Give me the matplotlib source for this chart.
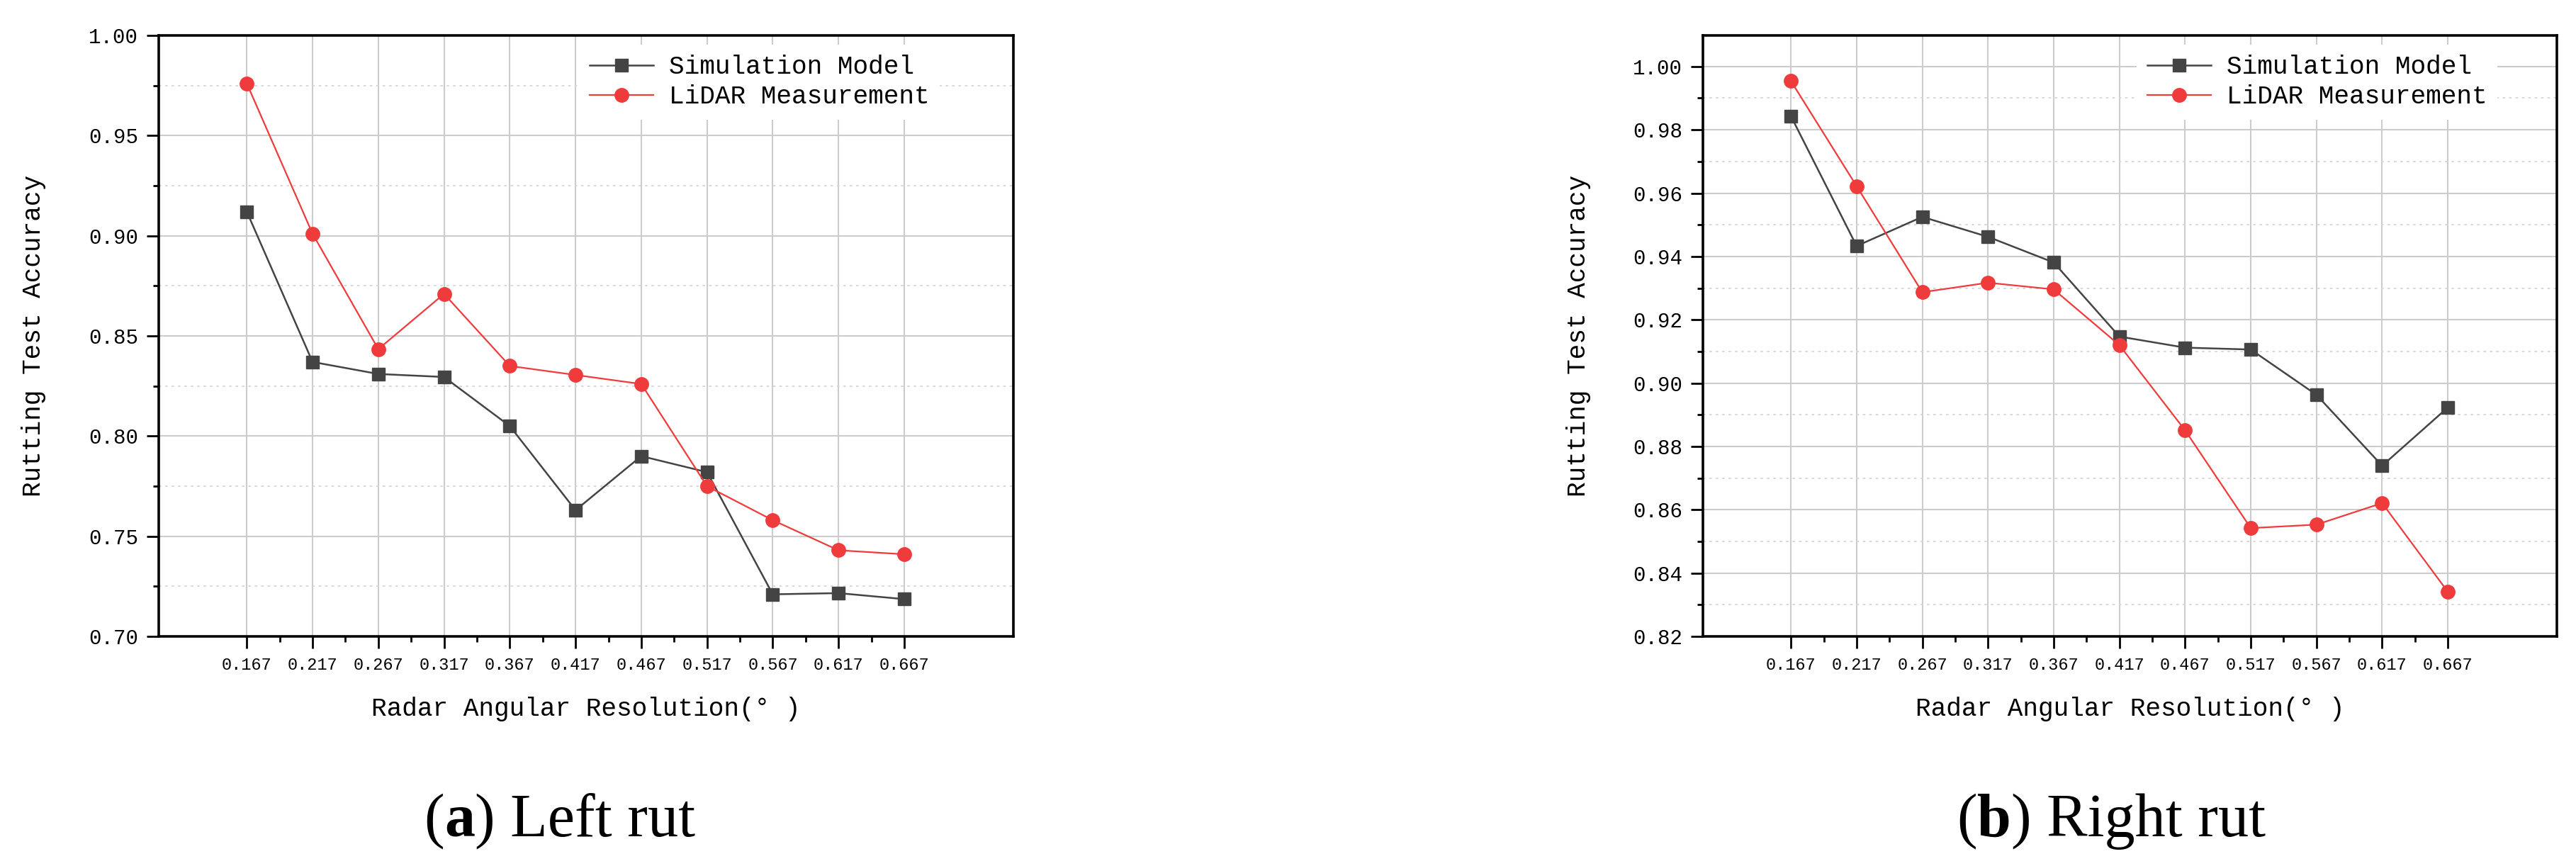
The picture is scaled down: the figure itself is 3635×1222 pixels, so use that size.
import matplotlib.pyplot as plt
import numpy as np
from matplotlib.ticker import FixedLocator, MultipleLocator

# radar angular resolution (deg)
resolution = [0.167, 0.217, 0.267, 0.317, 0.367, 0.417, 0.467, 0.517, 0.567, 0.617, 0.667]
tick_labels = ['0.167', '0.217', '0.267', '0.317', '0.367', '0.417',
               '0.467', '0.517', '0.567', '0.617', '0.667']

left_sim = [0.912, 0.837, 0.831, 0.8295, 0.805, 0.763, 0.790, 0.782, 0.721, 0.7216, 0.7186]
left_lidar = [0.976, 0.901, 0.8434, 0.871, 0.835, 0.8305, 0.826, 0.775, 0.758, 0.743, 0.741]

right_sim = [0.9843, 0.9433, 0.9525, 0.9462, 0.9381, 0.9147, 0.9112, 0.9106, 0.8963, 0.8739, 0.8923]
right_lidar = [0.9954, 0.9622, 0.9287, 0.9317, 0.9296, 0.912, 0.8851, 0.8542, 0.8553, 0.8621, 0.8341]

series_names = ['Simulation Model', 'LiDAR Measurement']
captions = [('(', 'a', ') Left rut'), ('(', 'b', ') Right rut')]

mono = 'Liberation Mono'
serif = 'Liberation Serif'
sim_color = '#444444'
lidar_color = '#ef3b3b'

fig = plt.figure(figsize=(36.35, 12.22), dpi=100)
fig.patch.set_facecolor('white')

ax_left = fig.add_axes([0.06162, 0.26514, 0.33177, 0.69394])
ax_right = fig.add_axes([0.66107, 0.26514, 0.33150, 0.69394])


def style_axes(ax, sim, lidar, ylim, ystep, legend_x):
    ax.plot(resolution, sim, color=sim_color, lw=1.8, marker='s', ms=13,
            mfc=sim_color, mec=sim_color, label=series_names[0], zorder=3)
    ax.plot(resolution, lidar, color=lidar_color, lw=1.6, marker='o', ms=14,
            mfc=lidar_color, mec=lidar_color, label=series_names[1], zorder=4)

    ax.set_xlim(0.1, 0.75)
    ax.set_ylim(*ylim)

    ax.xaxis.set_major_locator(FixedLocator(resolution))
    ax.set_xticklabels(tick_labels, fontfamily=mono, fontsize=17)
    mids = [(a + b) / 2 for a, b in zip(resolution[:-1], resolution[1:])]
    ax.xaxis.set_minor_locator(FixedLocator(mids))

    ax.yaxis.set_major_locator(MultipleLocator(ystep))
    ax.yaxis.set_minor_locator(MultipleLocator(ystep / 2))
    ax.yaxis.set_major_formatter(plt.FormatStrFormatter('%.2f'))
    for lab in ax.get_yticklabels():
        lab.set_fontfamily(mono)
        lab.set_fontsize(21)

    ax.tick_params(which='major', direction='out', length=12, width=2,
                   top=False, right=False, pad=9, colors='black')
    ax.tick_params(which='minor', direction='out', length=6, width=2,
                   top=False, right=False)

    ax.grid(which='major', axis='both', color='#cccccc', lw=1.5)
    ax.grid(which='minor', axis='y', color='#d6d6d6', lw=1.3, ls=(0, (2, 3)))
    ax.set_axisbelow(True)

    for sp in ax.spines.values():
        sp.set_linewidth(2.6)
        sp.set_color('black')

    ax.set_xlabel('Radar Angular Resolution(° )', fontfamily=mono, fontsize=26, va='center')
    ax.xaxis.set_label_coords(0.5, -0.121)
    ax.set_ylabel('Rutting Test Accuracy', fontfamily=mono, fontsize=26, va='center')
    ax.yaxis.set_label_coords(-0.146, 0.5)

    leg = ax.legend(loc='upper left', bbox_to_anchor=(legend_x, 0.985), frameon=True,
                    fancybox=False, edgecolor='none', facecolor='white', framealpha=1,
                    prop={'family': mono, 'size': 26}, handlelength=2.5,
                    handletextpad=0.6, labelspacing=0.2, borderpad=0.4,
                    borderaxespad=0)
    leg.set_zorder(5)


style_axes(ax_left, left_sim, left_lidar, (0.70, 1.00), 0.05, 0.492)
style_axes(ax_right, right_sim, right_lidar, (0.82, 1.0098), 0.02, 0.508)

# captions below each panel, with bold letter
renderer = fig.canvas.get_renderer()
for (pre, letter, post), cx in zip(captions, [790 / 3635, 2979 / 3635]):
    parts = [(pre, 'normal'), (letter, 'bold'), (post, 'normal')]
    texts = []
    for s, w in parts:
        t = fig.text(0, 0.0344, s, fontfamily=serif, fontsize=62, fontweight=w,
                     ha='left', va='baseline')
        texts.append(t)
    widths = [t.get_window_extent(renderer).width / fig.bbox.width for t in texts]
    x = cx - sum(widths) / 2
    for t, w in zip(texts, widths):
        t.set_x(x)
        x += w

fig.savefig('out.png', dpi=100, facecolor='white')
